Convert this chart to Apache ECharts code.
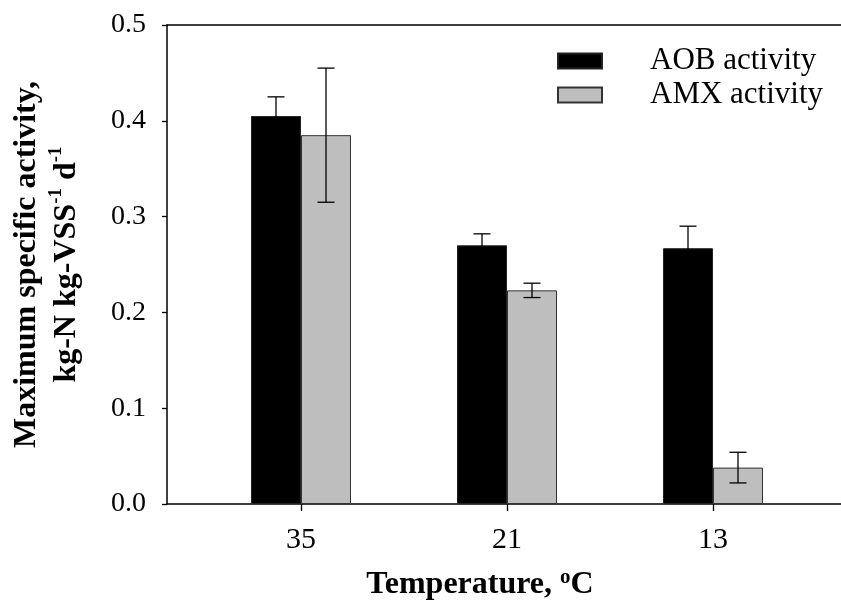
<!DOCTYPE html>
<html>
<head>
  <meta charset="utf-8" />
  <style>
    html, body { margin: 0; padding: 0; background: #fff; }
    #main { width: 841px; height: 607px; }
  </style>
</head>
<body>
  <div id="main"></div>
  <script src="https://cdn.jsdelivr.net/npm/echarts@6/dist/echarts.min.js"></script>
  <script>
    const temps = ['35', '21', '13'];
    const aob = [0.405, 0.270, 0.267];
    const aobErr = [0.020, 0.012, 0.023];
    const amx = [0.385, 0.223, 0.038];
    const amxErr = [0.070, 0.0075, 0.016];

    const serif = "'Liberation Serif', 'Times New Roman', serif";
    const barW = 50;

    // error bar drawn at the centre of one bar of the pair (side -1 left, +1 right)
    function errRender(side) {
      return function (params, api) {
        const i = api.value(0), v = api.value(1), e = api.value(2);
        const x = api.coord([i, v])[0] + side * barW / 2;
        const yHi = api.coord([i, v + e])[1];
        const yLo = api.coord([i, v - e])[1];
        const cap = 8.5;
        const st = { stroke: '#000', lineWidth: 1.3 };
        return {
          type: 'group',
          children: [
            { type: 'line', shape: { x1: x, y1: yHi, x2: x, y2: yLo }, style: st },
            { type: 'line', shape: { x1: x - cap, y1: yHi, x2: x + cap, y2: yHi }, style: st },
            { type: 'line', shape: { x1: x - cap, y1: yLo, x2: x + cap, y2: yLo }, style: st }
          ]
        };
      };
    }

    const frameLine = { show: true, onZero: false, lineStyle: { color: '#000', width: 1.5 } };

    const chart = echarts.init(document.getElementById('main'));
    chart.setOption({
      animation: false,
      legend: {
        data: ['AOB activity', 'AMX activity'],
        orient: 'vertical',
        left: 557,
        top: 45,
        padding: 0,
        icon: 'rect',
        itemWidth: 44,
        itemHeight: 15,
        itemGap: 2,
        textStyle: { fontFamily: serif, fontSize: 31, color: '#000', lineHeight: 32, padding: [0, 0, 0, 43] }
      },
      grid: [
        { left: 167, right: 0, top: 25, bottom: 103 },
        { left: 198, right: 25, top: 25, bottom: 103 }
      ],
      xAxis: [
        // frame lines top and bottom
        { type: 'value', gridIndex: 0, position: 'top', axisLine: frameLine,
          axisTick: { show: false }, axisLabel: { show: false }, splitLine: { show: false } },
        {
          type: 'category', gridIndex: 1, data: temps,
          axisLine: { show: false },
          axisTick: { show: true, alignWithLabel: true, length: 7, lineStyle: { color: '#000', width: 1.3 } },
          axisLabel: { fontFamily: serif, fontSize: 30, color: '#000', margin: 21 },
          name: '{b|Temperature, }{s|o}{b|C}',
          nameLocation: 'middle',
          nameGap: 63,
          nameTextStyle: {
            padding: [0, 54, 0, 0],
            rich: {
              b: { fontFamily: serif, fontSize: 32, fontWeight: 'bold', color: '#000', lineHeight: 36 },
              s: { fontFamily: serif, fontSize: 21, fontWeight: 'bold', color: '#000', lineHeight: 20, verticalAlign: 'top' }
            }
          }
        },
        { type: 'value', gridIndex: 0, position: 'bottom', axisLine: frameLine,
          axisTick: { show: false }, axisLabel: { show: false }, splitLine: { show: false } }
      ],
      yAxis: [
        {
          type: 'value', gridIndex: 0, min: 0, max: 0.5, interval: 0.1,
          axisLine: frameLine,
          axisTick: { show: true, length: 5, lineStyle: { color: '#000', width: 1.3 } },
          splitLine: { show: false },
          axisLabel: { fontFamily: serif, fontSize: 28, color: '#000', margin: 21, formatter: v => v.toFixed(1) },
          name: '{b|Maximum specific activity,}\n{b|kg-N kg-VSS}{s|-1}{b| d}{s|-1}',
          nameLocation: 'middle',
          nameRotate: 90,
          nameGap: 80,
          nameTextStyle: {
            align: 'center',
            rich: {
              b: { fontFamily: serif, fontSize: 32, fontWeight: 'bold', color: '#000', lineHeight: 40 },
              s: { fontFamily: serif, fontSize: 19, fontWeight: 'bold', color: '#000', lineHeight: 20, verticalAlign: 'top' }
            }
          }
        },
        { type: 'value', gridIndex: 1, min: 0, max: 0.5, show: false }
      ],
      series: [
        {
          name: 'AOB activity', type: 'bar', xAxisIndex: 1, yAxisIndex: 1,
          data: aob, barWidth: barW, barGap: '0%',
          itemStyle: { color: '#000', borderColor: '#222', borderWidth: 1 }
        },
        {
          name: 'AMX activity', type: 'bar', xAxisIndex: 1, yAxisIndex: 1,
          data: amx, barWidth: barW, barGap: '0%',
          itemStyle: { color: '#bebebe', borderColor: '#333', borderWidth: 1 }
        },
        {
          name: 'aobErr', type: 'custom', xAxisIndex: 1, yAxisIndex: 1, z: 5,
          renderItem: errRender(-1),
          data: aob.map((v, i) => [i, v, aobErr[i]])
        },
        {
          name: 'amxErr', type: 'custom', xAxisIndex: 1, yAxisIndex: 1, z: 5,
          renderItem: errRender(1),
          data: amx.map((v, i) => [i, v, amxErr[i]])
        }
      ]
    });
  </script>
</body>
</html>
